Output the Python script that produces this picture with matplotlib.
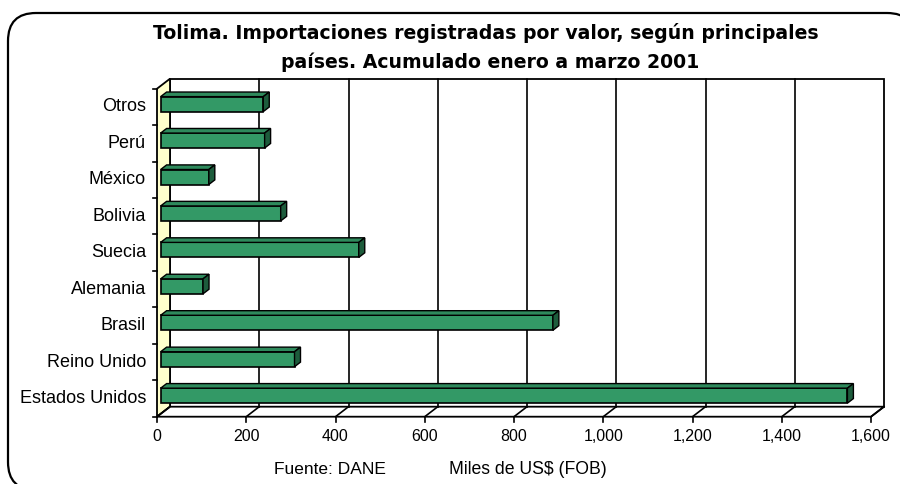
import numpy as np
import matplotlib
matplotlib.use("Agg")
import matplotlib.pyplot as plt
from matplotlib.patches import Polygon, FancyBboxPatch

plt.rcParams['font.family'] = ['Liberation Sans', 'DejaVu Sans']

# data (top to bottom as shown)
paises = ["Otros", "Perú", "México", "Bolivia", "Suecia", "Alemania",
          "Brasil", "Reino Unido", "Estados Unidos"]
valores = [230, 233, 108, 269, 444, 95, 879, 300, 1539]
xticks = [0, 200, 400, 600, 800, 1000, 1200, 1400, 1600]

W, H = 900, 484
fig = plt.figure(figsize=(W / 100, H / 100), dpi=100)

# background canvas in pixel units for frame and texts
bg = fig.add_axes([0, 0, 1, 1])
bg.set_xlim(0, W)
bg.set_ylim(H, 0)
bg.axis("off")
bg.add_patch(FancyBboxPatch((8, 13), 907, 477, boxstyle="round,pad=0,rounding_size=28",
                            fc="white", ec="black", lw=1.6))
tkw = dict(ha="center", va="center", fontsize=13.6, fontweight="bold",
           family=["DejaVu Sans"])
bg.text(486, 33, "Tolima. Importaciones registradas por valor, según principales", **tkw)
bg.text(490, 62, "países. Acumulado enero a marzo 2001", **tkw)
bg.text(274, 470, "Fuente: DANE", ha="left", va="center", fontsize=12.5)
bg.text(449, 470, "Miles de US$ (FOB)", ha="left", va="center", fontsize=12.7)

# front plane of the pseudo-3d plot
x0, x1, yb, yt = 157, 871, 416.7, 88.7
ax = fig.add_axes([x0 / W, 1 - yb / H, (x1 - x0) / W, (yb - yt) / H])
n = len(paises)
xmax = xticks[-1]
ax.set_xlim(0, xmax)
ax.set_ylim(0, n)
ax.axis("off")

sx = xmax / (x1 - x0)   # data per px (x)
sy = n / (yb - yt)      # data per px (y)
ddx, ddy = 13 * sx, 10 * sy   # depth vector

kw = dict(clip_on=False)
# back wall
ax.add_patch(Polygon([(ddx, ddy), (xmax + ddx, ddy), (xmax + ddx, n + ddy), (ddx, n + ddy)],
                     closed=True, fc="white", ec="black", lw=1.3, **kw))
# left wall
ax.add_patch(Polygon([(0, 0), (ddx, ddy), (ddx, n + ddy), (0, n)],
                     closed=True, fc="#FFFFCC", ec="black", lw=1.3, **kw))
# floor
ax.add_patch(Polygon([(0, 0), (xmax, 0), (xmax + ddx, ddy), (ddx, ddy)],
                     closed=True, fc="white", ec="black", lw=1.3, **kw))
for v in xticks[1:-1]:
    ax.plot([v + ddx, v + ddx], [ddy, n + ddy], color="black", lw=1.2, **kw)
for v in xticks:
    ax.plot([v, v + ddx], [0, ddy], color="black", lw=1.2, **kw)
    ax.plot([v, v], [0, -5 * sy], color="black", lw=1.2, **kw)
    ax.text(v, -12 * sy, f"{v:,}", ha="center", va="top", fontsize=11.5, **kw)
for k in range(n + 1):
    ax.plot([0, -4 * sx], [k, k], color="black", lw=1.2, **kw)

# bars
f1, f2 = 0.28, 0.74
bh = 15 * sy
ypos = np.arange(n)[::-1] + 0.5
for yc, val, name in zip(ypos, valores, paises):
    yc1 = yc + f1 * ddy
    xl = f1 * ddx
    ax.barh(yc1, val, left=xl, height=bh, color="#339966", edgecolor="black",
            lw=1.2, zorder=3, **kw)
    xr = xl + val
    ox, oy = (f2 - f1) * ddx, (f2 - f1) * ddy
    ax.add_patch(Polygon([(xl, yc1 + bh / 2), (xr, yc1 + bh / 2),
                          (xr + ox, yc1 + bh / 2 + oy), (xl + ox, yc1 + bh / 2 + oy)],
                         closed=True, fc="#2E8A5C", ec="black", lw=1.0, zorder=3, **kw))
    ax.add_patch(Polygon([(xr, yc1 - bh / 2), (xr + ox, yc1 - bh / 2 + oy),
                          (xr + ox, yc1 + bh / 2 + oy), (xr, yc1 + bh / 2)],
                         closed=True, fc="#1D5C3C", ec="black", lw=1.0, zorder=3, **kw))
    ax.text(-11 * sx, yc, name, ha="right", va="center", fontsize=13, **kw)

fig.savefig("out.png", dpi=100)
